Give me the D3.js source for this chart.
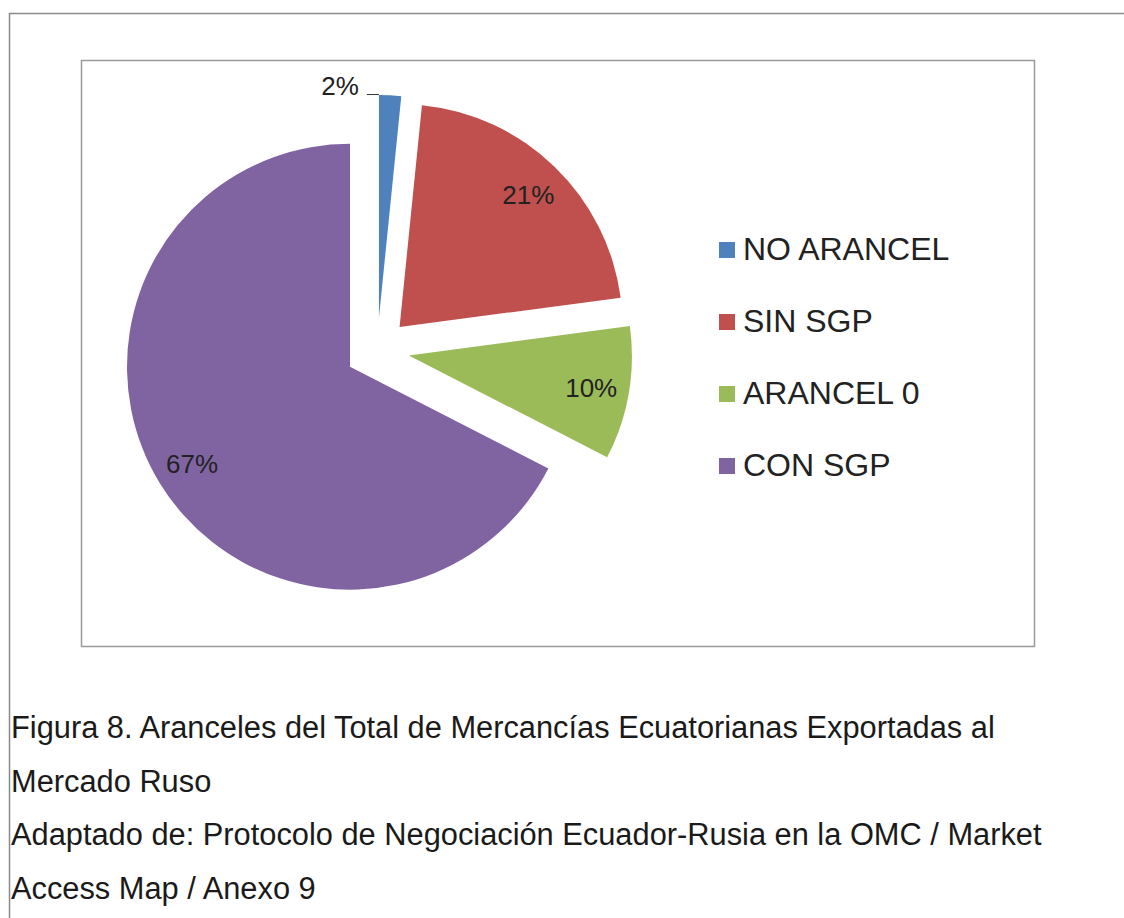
<!DOCTYPE html>
<html>
<head>
<meta charset="utf-8">
<script src="https://cdn.jsdelivr.net/npm/d3@7"></script>
<style>
  body { margin: 0; background: #fff; }
  svg { display: block; font-family: "Liberation Sans", Arial, sans-serif; }
</style>
</head>
<body>
<svg id="chart"></svg>
<script>
// Data (percent shares)
const categories = ["NO ARANCEL", "SIN SGP", "ARANCEL 0", "CON SGP"];
const values = [1.6, 21.3, 9.65, 67.45];
const colors = ["#4F81BD", "#C0504D", "#9BBB59", "#8064A2"];
const captionLines = [
    "Figura 8. Aranceles del Total de Mercancías Ecuatorianas Exportadas al",
    "Mercado Ruso",
    "Adaptado de: Protocolo de Negociación Ecuador-Rusia en la OMC / Market",
    "Access Map / Anexo 9"
];

const W = 1124, H = 918;
const svg = d3.select("#chart").attr("width", W).attr("height", H);

// outer page frame (runs off the right / bottom)
svg.append("path")
    .attr("d", `M9.5,${H} V13.5 H${W}`)
    .attr("fill", "none")
    .attr("stroke", "#8a8a8a")
    .attr("stroke-width", 1.5);

// chart area box
svg.append("rect")
    .attr("x", 81.5).attr("y", 60.5)
    .attr("width", 953).attr("height", 586)
    .attr("fill", "#fff")
    .attr("stroke", "#9a9a9a")
    .attr("stroke-width", 1.5);

// pie
const cx = 377.3, cy = 350, radius = 223, explode = 32;
const pie = d3.pie().sort(null).value(d => d.value);
const arc = d3.arc().innerRadius(0).outerRadius(radius);
const rows = categories.map((c, i) => ({name: c, value: values[i], color: colors[i]}));
const arcs = pie(rows);

function offset(a, dist) {
    const m = (a.startAngle + a.endAngle) / 2;
    return [dist * Math.sin(m), -dist * Math.cos(m)];
}

const g = svg.append("g").attr("transform", `translate(${cx},${cy})`);

const slices = g.selectAll("g.slice")
    .data(arcs)
    .enter()
    .append("g")
    .attr("class", "slice")
    .attr("transform", d => `translate(${offset(d, explode)})`);

slices.append("path")
    .attr("d", arc)
    .attr("fill", d => d.data.color);

// labels inside the big slices
slices.filter(d => d.data.value >= 5)
    .append("text")
    .attr("transform", d => `translate(${offset(d, radius * 0.83)})`)
    .attr("text-anchor", "middle")
    .attr("dy", "0.38em")
    .attr("font-size", 26)
    .attr("fill", "#222")
    .text(d => Math.round(d.data.value) + "%");

// small slice: label outside with a short leader
slices.filter(d => d.data.value < 5).each(function(d) {
    const s = d3.select(this);
    const px = radius * Math.sin(d.startAngle);
    const py = -radius * Math.cos(d.startAngle);
    s.append("line")
        .attr("x1", px - 12).attr("x2", px)
        .attr("y1", py - 0.5).attr("y2", py - 0.5)
        .attr("stroke", "#333")
        .attr("stroke-width", 1);
    s.append("text")
        .attr("x", px - 20)
        .attr("y", py)
        .attr("text-anchor", "end")
        .attr("font-size", 26)
        .attr("fill", "#222")
        .text(Math.round(d.data.value) + "%");
});

// legend
const legend = svg.append("g").attr("transform", "translate(719,242)");
const item = legend.selectAll("g")
    .data(rows)
    .enter()
    .append("g")
    .attr("transform", (d, i) => `translate(0,${i * 72})`);
item.append("rect")
    .attr("width", 16).attr("height", 16)
    .attr("fill", d => d.color);
item.append("text")
    .attr("x", 24)
    .attr("y", 18)
    .attr("font-size", 32)
    .attr("fill", "#222")
    .text(d => d.name);

// caption
svg.append("g")
    .selectAll("text")
    .data(captionLines)
    .enter()
    .append("text")
    .attr("x", 11)
    .attr("y", (d, i) => 738 + i * 53.5)
    .attr("font-size", 30.8)
    .attr("fill", "#1a1a1a")
    .text(d => d);
</script>
</body>
</html>
